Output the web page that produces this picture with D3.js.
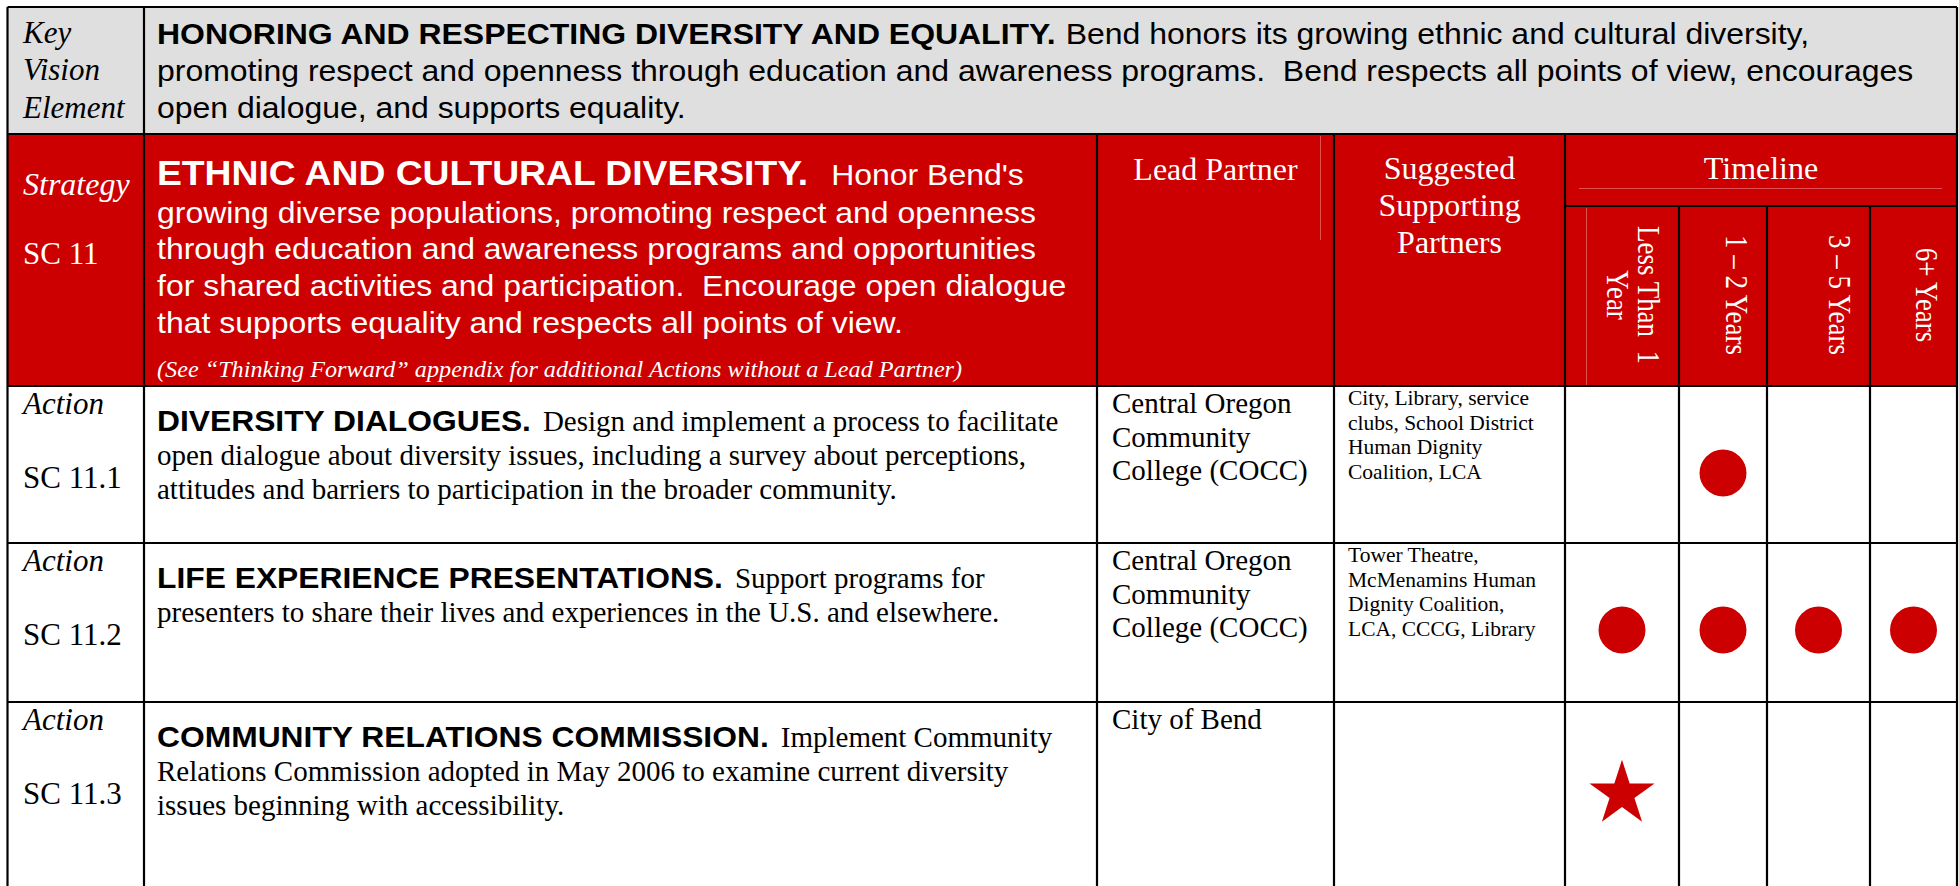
<!DOCTYPE html>
<html><head><meta charset="utf-8">
<script src="https://cdn.jsdelivr.net/npm/d3@7/dist/d3.min.js"></script>
<style>html,body{margin:0;padding:0;background:#fff;overflow:hidden}text{white-space:pre}</style>
</head><body><svg id="c" width="1959" height="886"></svg>
<script>
// ---------- data ----------
const visionLabel = ["Key", "Vision", "Element"];
const visionTitle = "HONORING AND RESPECTING DIVERSITY AND EQUALITY.";
const visionLines = [
  "Bend honors its growing ethnic and cultural diversity,",
  "promoting respect and openness through education and awareness programs.  Bend respects all points of view, encourages",
  "open dialogue, and supports equality."
];
const strategyLabel = ["Strategy", "SC 11"];
const strategyTitle = "ETHNIC AND CULTURAL DIVERSITY.";
const strategyLines = [
  "Honor Bend's",
  "growing diverse populations, promoting respect and openness",
  "through education and awareness programs and opportunities",
  "for shared activities and participation.  Encourage open dialogue",
  "that supports equality and respects all points of view."
];
const strategyNote = "(See \u201cThinking Forward\u201d appendix for additional Actions without a Lead Partner)";
const leadHeader = ["Lead Partner"];
const supportHeader = ["Suggested", "Supporting", "Partners"];
const timelineHeader = "Timeline";
const timelineCats = ["Less Than 1 Year", "1 \u2013 2 Years", "3 \u2013 5 Years", "6+ Years"];
const timelineCatLines = [["Less Than  1", "Year"], ["1 \u2013 2 Years"], ["3 \u2013 5 Years"], ["6+ Years"]];
const actionCodes = ["SC 11.1", "SC 11.2", "SC 11.3"];
const actionTitles = ["DIVERSITY DIALOGUES.", "LIFE EXPERIENCE PRESENTATIONS.", "COMMUNITY RELATIONS COMMISSION."];
const actionText = [
  ["Design and implement a process to facilitate",
   "open dialogue about diversity issues, including a survey about perceptions,",
   "attitudes and barriers to participation in the broader community."],
  ["Support programs for",
   "presenters to share their lives and experiences in the U.S. and elsewhere."],
  ["Implement Community",
   "Relations Commission adopted in May 2006 to examine current diversity",
   "issues beginning with accessibility."]
];
const leadPartners = [
  ["Central Oregon", "Community", "College (COCC)"],
  ["Central Oregon", "Community", "College (COCC)"],
  ["City of Bend"]
];
const supportPartners = [
  ["City, Library, service", "clubs, School District", "Human Dignity", "Coalition, LCA"],
  ["Tower Theatre,", "McMenamins Human", "Dignity Coalition,", "LCA, CCCG, Library"],
  []
];
// timeline marks per action: category -> mark type
const timelineMarks = [
  {action: "SC 11.1", cat: "1 \u2013 2 Years", type: "circle"},
  {action: "SC 11.2", cat: "Less Than 1 Year", type: "circle"},
  {action: "SC 11.2", cat: "1 \u2013 2 Years", type: "circle"},
  {action: "SC 11.2", cat: "3 \u2013 5 Years", type: "circle"},
  {action: "SC 11.2", cat: "6+ Years", type: "circle"},
  {action: "SC 11.3", cat: "Less Than 1 Year", type: "star"}
];

// ---------- layout ----------
const RED = "#cc0000", GRAY = "#dfdfdf";
const SANS = "'Liberation Sans', Arial, Helvetica, sans-serif";
const SERIF = "'Liberation Serif', 'Times New Roman', Times, serif";
const X = {left: 7.5, c1: 144, lead: 1097, sup: 1334, tl: 1565, right: 1957};
const tlEdges = [1565, 1679, 1767, 1870, 1957];
const Y = {top: 7, gray: 134, red: 386, tlSplit: 206, bottom: 900};
const rowEdges = [386, 543, 702, 900];
const textX = 157;

const svg = d3.select("#c");

const xTl = d3.scaleOrdinal().domain(timelineCats)
  .range(timelineCats.map((d, i) => (tlEdges[i] + tlEdges[i + 1]) / 2));
const xTlRight = d3.scaleOrdinal().domain(timelineCats).range(tlEdges.slice(1));
const yRow = d3.scaleOrdinal().domain(actionCodes).range(rowEdges.slice(0, 3));

// backgrounds
svg.append("rect").attr("x", X.left).attr("y", Y.top).attr("width", X.right - X.left).attr("height", Y.gray - Y.top).attr("fill", GRAY);
svg.append("rect").attr("x", X.left).attr("y", Y.gray).attr("width", X.right - X.left).attr("height", Y.red - Y.gray).attr("fill", RED);

// faint artefact lines inside the red header
const faint = svg.append("g").attr("stroke", "#e25050").attr("stroke-width", 1);
faint.append("line").attr("x1", 1320.5).attr("x2", 1320.5).attr("y1", 136).attr("y2", 240);
faint.append("line").attr("x1", 1586.5).attr("x2", 1586.5).attr("y1", 208).attr("y2", 385);
faint.append("line").attr("x1", 1579).attr("x2", 1942).attr("y1", 188.5).attr("y2", 188.5);

// grid
const grid = svg.append("g").attr("stroke", "#000").attr("stroke-width", 2.2).attr("fill", "none");
function hl(y, x1, x2) { grid.append("line").attr("x1", x1).attr("x2", x2).attr("y1", y).attr("y2", y); }
function vl(x, y1, y2) { grid.append("line").attr("x1", x).attr("x2", x).attr("y1", y1).attr("y2", y2); }
hl(Y.top, X.left, X.right);
hl(Y.gray, X.left, X.right);
hl(Y.red, X.left, X.right);
rowEdges.slice(1, 3).forEach(y => hl(y, X.left, X.right));
hl(Y.tlSplit, X.tl, X.right);
vl(X.left, Y.top, Y.bottom);
vl(X.right, Y.top, Y.bottom);
vl(X.c1, Y.top, Y.bottom);
[X.lead, X.sup, X.tl].forEach(x => vl(x, Y.gray, Y.bottom));
tlEdges.slice(1, 4).forEach(x => vl(x, Y.tlSplit, Y.bottom));

// text helpers
function txt(g, x, y, s, o) {
  return g.append("text")
    .attr("transform", `translate(${x},${y}) scale(${o.sx || 1},1)` + (o.rot ? ` rotate(${o.rot})` : ""))
    .attr("font-family", o.ff).attr("font-size", o.fs)
    .attr("font-weight", o.fw || "normal").attr("font-style", o.fst || "normal")
    .attr("fill", o.fill || "#000").attr("text-anchor", o.anchor || "start")
    .text(s);
}
function runs(g, x, y, list) {
  let cx = x;
  list.forEach(r => {
    const t = txt(g, cx, y, r.s, r);
    cx += t.node().getComputedTextLength() * (r.sx || 1) + (r.gap || 0);
  });
}
const T = svg.append("g");

// Key vision element
[43, 80, 118].forEach((y, i) => txt(T, 23, y, visionLabel[i], {ff: SERIF, fs: 31, fst: "italic"}));
const gs = {ff: SANS, fs: 30, sx: 1.065};
runs(T, textX, 44, [
  Object.assign({s: visionTitle, fw: "bold", gap: 10}, gs),
  Object.assign({s: visionLines[0]}, gs)
]);
txt(T, textX, 81, visionLines[1], gs);
txt(T, textX, 118, visionLines[2], gs);

// Strategy
txt(T, 23, 195, strategyLabel[0], {ff: SERIF, fs: 32, fst: "italic", fill: "#fff"});
txt(T, 23, 264, strategyLabel[1], {ff: SERIF, fs: 31, fill: "#fff"});
runs(T, textX, 185, [
  {s: strategyTitle, ff: SANS, fs: 35.5, fw: "bold", sx: 1.05, fill: "#fff", gap: 23},
  {s: strategyLines[0], ff: SANS, fs: 30, sx: 1.065, fill: "#fff"}
]);
[223, 259, 296, 333].forEach((y, i) =>
  txt(T, textX, y, strategyLines[i + 1], {ff: SANS, fs: 30, sx: 1.065, fill: "#fff"}));
txt(T, textX, 377, strategyNote, {ff: SERIF, fs: 23.5, fst: "italic", sx: 1.03, fill: "#fff"});

// column headers
txt(T, (X.lead + X.sup) / 2, 180, leadHeader[0], {ff: SERIF, fs: 32, fill: "#fff", anchor: "middle"});
[179, 216, 253].forEach((y, i) =>
  txt(T, (X.sup + X.tl) / 2, y, supportHeader[i], {ff: SERIF, fs: 32, fill: "#fff", anchor: "middle"}));
txt(T, (X.tl + X.right) / 2, 179, timelineHeader, {ff: SERIF, fs: 32, fill: "#fff", anchor: "middle"});
timelineCats.forEach((c, i) => {
  timelineCatLines[i].forEach((line, k) => {
    txt(T, xTlRight(c) - 41 - 31 * k, 295, line,
      {ff: SERIF, fs: 27, fill: "#fff", anchor: "middle", sx: 1.15, rot: 90});
  });
});

// action rows
actionCodes.forEach((code, i) => {
  const y0 = yRow(code);
  txt(T, 23, y0 + 28, "Action", {ff: SERIF, fs: 31, fst: "italic"});
  txt(T, 23, y0 + 102, code, {ff: SERIF, fs: 31});
  runs(T, textX, y0 + 45, [
    {s: actionTitles[i], ff: SANS, fs: 30, fw: "bold", sx: 1.06, gap: 12},
    {s: actionText[i][0], ff: SERIF, fs: 29}
  ]);
  actionText[i].slice(1).forEach((line, k) =>
    txt(T, textX, y0 + 79 + 34 * k, line, {ff: SERIF, fs: 29}));
  leadPartners[i].forEach((line, k) =>
    txt(T, 1112, y0 + 27 + 33.5 * k, line, {ff: SERIF, fs: 29}));
  supportPartners[i].forEach((line, k) =>
    txt(T, 1348, y0 + 19 + 24.5 * k, line, {ff: SERIF, fs: 21.5}));
});

// timeline marks
const M = svg.append("g").attr("fill", RED);
M.selectAll("circle").data(timelineMarks.filter(d => d.type === "circle")).join("circle")
  .attr("cx", d => xTl(d.cat)).attr("cy", d => yRow(d.action) + 87).attr("r", 23.5);
M.selectAll("path").data(timelineMarks.filter(d => d.type === "star")).join("path")
  .attr("transform", d => `translate(${xTl(d.cat)},${yRow(d.action) + 92})`)
  .attr("d", d3.symbol(d3.symbolStar, 34.2 * 34.2 / 0.8908130915292852));
</script></body></html>
